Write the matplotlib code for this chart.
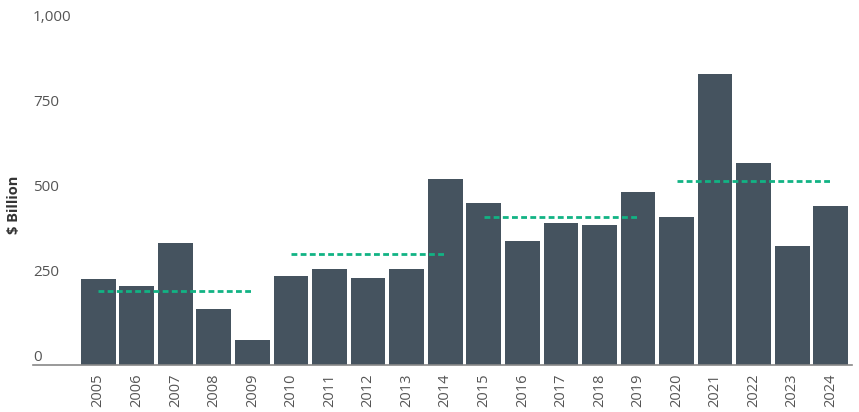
import matplotlib
matplotlib.use("Agg")
import matplotlib.pyplot as plt
import matplotlib.transforms as mtransforms

years = [str(y) for y in range(2005, 2025)]
values = [253, 232, 360, 165, 73, 262, 282, 256, 282, 547,
          476, 365, 418, 412, 509, 436, 856, 594, 350, 468]
avg_groups = [("2005", "2009"), ("2010", "2014"), ("2015", "2019"), ("2020", "2024")]
avg_values = [218, 327, 435, 542]
yticks = [0, 250, 500, 750, 1000]
ytick_labels = ["0", "250", "500", "750", "1,000"]

plt.rcParams['font.family'] = ['Open Sans', 'DejaVu Sans']

fig = plt.figure(figsize=(8.59, 4.12), dpi=100)
ax = fig.add_axes([33/859, 47/412, (852-33)/859, 365/412])

x = list(range(len(years)))
ax.bar(x, values, width=0.9, color='#45535f', zorder=2)

for (a, b), v in zip(avg_groups, avg_values):
    i0, i1 = years.index(a), years.index(b)
    ax.plot([i0, i1], [v, v], color='#12b384', lw=2.0,
            linestyle=(0, (2.1, 1.2)), zorder=3, solid_capstyle='butt',
            dash_capstyle='butt')

ax.set_xlim(-1.69, len(years) - 0.45)
ax.set_ylim(0, 1073.5)

ax.set_xticks(x)
ax.set_xticklabels(years, rotation=90, fontsize=10.5, color='#555555')
ax.tick_params(axis='x', length=0, pad=6)

ax.set_yticks(yticks)
ax.set_yticklabels(ytick_labels, fontsize=11, color='#555555', ha='left')
ax.tick_params(axis='y', length=0, pad=0, direction='in')
offset = mtransforms.ScaledTranslation(0, 6.5/72, fig.dpi_scale_trans)
for lab in ax.get_yticklabels():
    lab.set_transform(lab.get_transform() + offset)

for s in ['top', 'right', 'left']:
    ax.spines[s].set_visible(False)
ax.spines['bottom'].set_color('#888888')
ax.spines['bottom'].set_linewidth(1.2)

fig.text(14/859, 1 - 205/412, "$ Billion", rotation=90, fontsize=10.5,
         fontweight='bold', color='#333333', ha='center', va='center')

fig.savefig("out.png", dpi=100)
